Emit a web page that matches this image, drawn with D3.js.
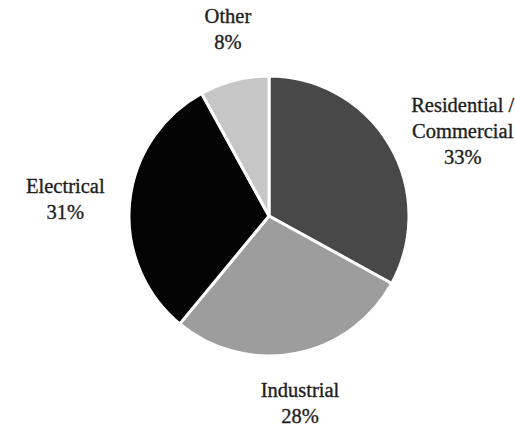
<!DOCTYPE html>
<html>
<head>
<meta charset="utf-8">
<script src="https://cdn.jsdelivr.net/npm/d3@7/dist/d3.min.js"></script>
<style>
  html, body { margin: 0; padding: 0; background: #fff; }
  svg { display: block; }
  .lbl { font-family: "Liberation Serif", "Times New Roman", serif; font-size: 20.5px; fill: #1e1e1e; stroke: #1e1e1e; stroke-width: 0.35px; }
</style>
</head>
<body>
<svg id="chart" width="515" height="426"></svg>
<script>
// Energy use by sector (share of total, %)
const categories = ["Residential /\nCommercial", "Industrial", "Electrical", "Other"];
const values = [33, 28, 31, 8];
const colors = ["#484848", "#9d9d9d", "#030303", "#c6c6c6"];

const width = 515, height = 426;
const cx = 269, cy = 216, radius = 140;
const labelGap = 25, lineHeight = 26, ascent = 19;

const svg = d3.select("#chart");
const g = svg.append("g").attr("transform", `translate(${cx},${cy})`);

const pie = d3.pie().sort(null).value(d => d.value);
const arcs = pie(categories.map((c, i) => ({ name: c, value: values[i], color: colors[i] })));
const arc = d3.arc().innerRadius(0).outerRadius(radius);

g.selectAll("path.slice")
  .data(arcs)
  .join("path")
  .attr("class", "slice")
  .attr("d", arc)
  .attr("fill", d => d.data.color)
  .attr("stroke", "#fff")
  .attr("stroke-width", 3)
  .attr("stroke-linejoin", "round");

// Labels sit just outside the rim; the box is pinned on its side or on
// its top/bottom edge, depending on which way the slice points.
arcs.forEach(d => {
  const mid = (d.startAngle + d.endAngle) / 2;
  const ux = Math.sin(mid), uy = -Math.cos(mid);
  const px = ux * (radius + labelGap), py = uy * (radius + labelGap);
  const lines = d.data.name.split("\n").concat([d.data.value + "%"]);

  const t = g.append("text").attr("class", "lbl").attr("text-anchor", "middle");
  lines.forEach((ln, i) => t.append("tspan").attr("x", 0).attr("y", ascent + i * lineHeight).text(ln));
  const w = t.node().getBBox().width;
  const h = lines.length * lineHeight;

  let left, top;
  if (Math.abs(ux) >= Math.abs(uy)) {
    left = ux > 0 ? px : px - w;
    top = py - h / 2;
  } else {
    left = px - w / 2;
    top = uy > 0 ? py : py - h;
  }
  t.attr("transform", `translate(${left + w / 2},${top})`);
});
</script>
</body>
</html>
